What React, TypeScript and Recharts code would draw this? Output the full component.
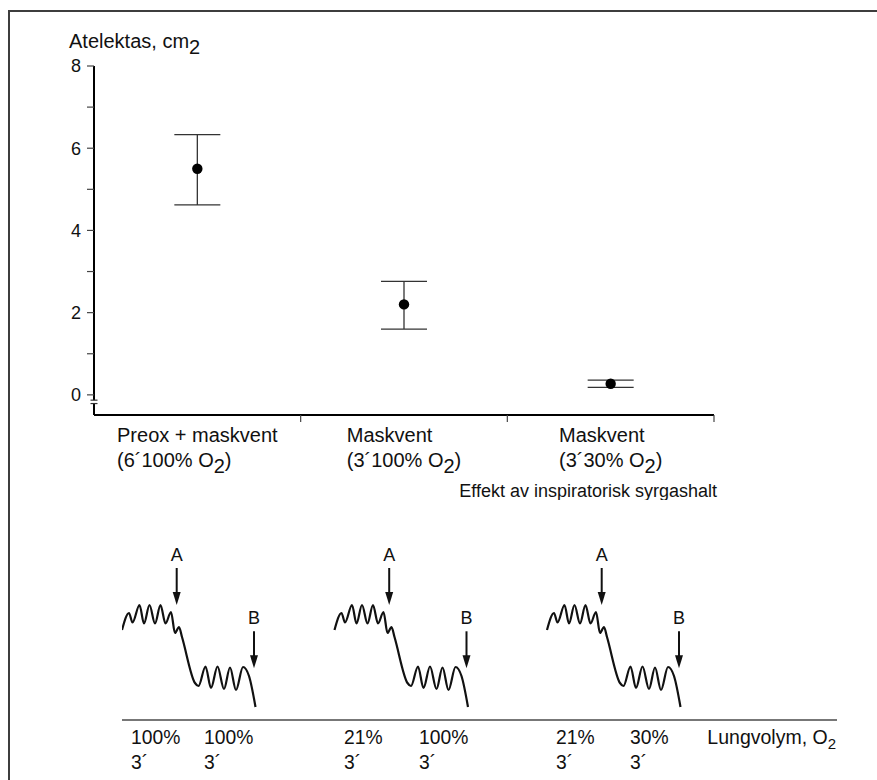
import React from 'react';
import { ComposedChart, Scatter, ErrorBar, XAxis, YAxis, Line, Label } from 'recharts';

const FONT = '"Liberation Sans", Arial, Helvetica, sans-serif';
const INK = '#111';

// ---- Top panel data ----
const categoryNames = ['Preox + maskvent', 'Maskvent', 'Maskvent'];
const categoryDoses = ['6´100%', '3´100%', '3´30%'];
const atelectasisMean = [5.5, 2.2, 0.27];
const atelectasisLow = [4.62, 1.6, 0.18];
const atelectasisHigh = [6.33, 2.76, 0.36];
const yTicks = [0, 1, 2, 3, 4, 5, 6, 7, 8];
const yBreak = -0.17;
const xCategoryTicks = [0.5, 1, 1.5, 2, 2.5, 3];

// ---- Bottom panel data (lung volume traces) ----
const traceT = [0, 1.4, 2.1, 3.5, 4.4, 5.5, 6.6, 7.7, 8.7, 9.8, 10.6, 11.4, 12.0, 14.6, 15.3, 16.7, 17.8, 19.1, 20.4, 21.6, 22.8, 24.2, 25.4, 26.7];
const traceV = [18.0, 21.4, 19.5, 23.0, 19.3, 23.0, 19.3, 23.0, 19.3, 21.6, 17.4, 18.6, 16.6, 7.4, 6.8, 10.7, 6.4, 10.7, 6.2, 10.5, 6.0, 10.6, 8.8, 2.6];
const panelOffsets = [0, 42.5, 85];
const arrowT = [10.94, 26.4];
const arrowV = [23, 10.34];
const arrowLabels = ['A', 'B'];
const o2Ticks = [1.8, 16.4, 44.4, 59.4, 86.8, 101.6];
const o2Levels = ['100%', '100%', '21%', '100%', '21%', '30%'];
const o2Durations = ['3´', '3´', '3´', '3´', '3´', '3´'];

const topData = atelectasisMean.map((m, i) => ({
  x: i + 0.5,
  y: m,
  err: [m - atelectasisLow[i], atelectasisHigh[i] - m],
}));

const panelData = panelOffsets.map((off) => traceT.map((t, i) => ({ t: t + off, v: traceV[i] })));
const arrowData = panelOffsets.flatMap((off) =>
  arrowT.map((t, i) => ({ t: t + off, v: arrowV[i], label: arrowLabels[i] }))
);

let measureCtx: CanvasRenderingContext2D | null = null;
function textWidth(s: string, font: string): number {
  if (!measureCtx) measureCtx = document.createElement('canvas').getContext('2d');
  if (!measureCtx) return s.length * 10;
  measureCtx.font = font;
  return measureCtx.measureText(s).width;
}

const CAT_FS = 20;

const CategoryTick = (props: any) => {
  const { x, y, payload } = props;
  const v = payload.value;
  const axisY = y - 6;
  if (Math.abs(v - Math.round(v)) < 1e-6) {
    return <line x1={x} x2={x} y1={axisY} y2={axisY + 7} stroke="#444" strokeWidth={1.2} />;
  }
  const i = Math.floor(v);
  const l1 = categoryNames[i];
  const l2 = `(${categoryDoses[i]} O2)`;
  const f = `${CAT_FS}px "Liberation Sans"`;
  const w = Math.max(textWidth(l1, f), textWidth(l2, f));
  const sx = x - w / 2;
  return (
    <g fontFamily={FONT} fontSize={CAT_FS} fill={INK}>
      <text x={sx} y={y + 21}>{l1}</text>
      <text x={sx} y={y + 46}>
        <tspan>{`(${categoryDoses[i]} O`}</tspan>
        <tspan dy={6}>2</tspan>
        <tspan dy={-6}>)</tspan>
      </text>
    </g>
  );
};

const YTick = (props: any) => {
  const { x, y, payload } = props;
  const axisX = x + 13;
  const v = payload.value;
  if (v === yBreak) {
    return (
      <g>
        <rect x={axisX - 2.5} y={y - 1.7} width={5} height={3.4} fill="#fff" />
        <line x1={axisX - 3.5} x2={axisX + 3.5} y1={y - 1.7} y2={y - 1.7} stroke="#333" strokeWidth={1.2} />
        <line x1={axisX - 3.5} x2={axisX + 3.5} y1={y + 1.7} y2={y + 1.7} stroke="#333" strokeWidth={1.2} />
      </g>
    );
  }
  return (
    <g>
      <line x1={axisX - 7} x2={axisX} y1={y} y2={y} stroke="#444" strokeWidth={1.2} />
      {v % 2 === 0 && (
        <text x={x} y={y} dy="0.35em" textAnchor="end" fontFamily={FONT} fontSize={18} fill={INK}>
          {v}
        </text>
      )}
    </g>
  );
};

const YTitle = (props: any) => {
  const vb = props.viewBox || { x: 0, y: 66, width: 94, height: 349 };
  return (
    <text x={vb.x + vb.width - 25} y={vb.y - 18} fontFamily={FONT} fontSize={20} fill={INK}>
      <tspan>Atelektas, cm</tspan>
      <tspan dy={6}>2</tspan>
    </text>
  );
};

const XTitle = (props: any) => {
  const vb = props.viewBox || { x: 94, y: 415, width: 620, height: 85 };
  return (
    <text x={vb.x + vb.width + 3} y={vb.y + 82} textAnchor="end" fontFamily={FONT} fontSize={18} fill={INK}>
      Effekt av inspiratorisk syrgashalt
    </text>
  );
};

const MeanDot = (props: any) => {
  const { cx, cy } = props;
  if (cx == null || cy == null) return null;
  return <circle cx={cx} cy={cy} r={5.2} fill="#000" />;
};

const O2Tick = (props: any) => {
  const { x, y, index } = props;
  return (
    <g fontFamily={FONT} fontSize={19.3} fill={INK}>
      <text x={x} y={y + 23.5}>{o2Levels[index]}</text>
      <text x={x} y={y + 49}>{o2Durations[index]}</text>
    </g>
  );
};

const LungLabel = (props: any) => {
  const vb = props.viewBox || { x: 122, y: 720, width: 715, height: 60 };
  return (
    <text x={vb.x + vb.width - 1} y={vb.y + 23.5} textAnchor="end" fontFamily={FONT} fontSize={19.5} fill={INK}>
      <tspan>Lungvolym, O</tspan>
      <tspan dy={5} fontSize={15}>2</tspan>
    </text>
  );
};

const ArrowShape = (props: any) => {
  const { cx, cy, payload } = props;
  if (cx == null || cy == null) return null;
  return (
    <g>
      <line x1={cx} x2={cx} y1={cy - 37} y2={cy - 10} stroke={INK} strokeWidth={2} />
      <path d={`M${cx - 4},${cy - 13} L${cx + 4},${cy - 13} L${cx},${cy} Z`} fill={INK} />
      <text x={cx} y={cy - 44} textAnchor="middle" fontFamily={FONT} fontSize={18} fill={INK}>
        {payload && payload.label}
      </text>
    </g>
  );
};

export default function App() {
  return (
    <div style={{ position: 'relative', width: 877, height: 780, overflow: 'hidden', background: '#fff' }}>
      <style>{'body{margin:0}'}</style>
      <div
        style={{
          position: 'absolute',
          left: 8,
          top: 10,
          width: 869,
          height: 770,
          borderTop: '2px solid #3d3d3d',
          borderLeft: '2px solid #3d3d3d',
          boxSizing: 'border-box',
        }}
      />
      <div style={{ position: 'absolute', left: 0, top: 0 }}>
        <ComposedChart width={877} height={500} margin={{ top: 66, right: 163, bottom: 0, left: 0 }}>
          <XAxis
            type="number"
            dataKey="x"
            domain={[0, 3]}
            ticks={xCategoryTicks}
            interval={0}
            tickLine={false}
            tickSize={6}
            tickMargin={0}
            axisLine={{ stroke: '#000', strokeWidth: 2 }}
            height={85}
            tick={(p: any) => <CategoryTick {...p} />}
          >
            <Label content={XTitle} />
          </XAxis>
          <YAxis
            type="number"
            domain={[-0.49, 8]}
            ticks={[yBreak, ...yTicks]}
            interval={0}
            tickLine={false}
            tickSize={7}
            tickMargin={6}
            axisLine={{ stroke: '#000', strokeWidth: 2 }}
            width={94}
            allowDataOverflow
            tick={(p: any) => <YTick {...p} />}
          >
            <Label content={YTitle} />
          </YAxis>
          <Scatter data={topData} dataKey="y" isAnimationActive={false} shape={MeanDot}>
            <ErrorBar dataKey="err" direction="y" width={23} stroke="#333" strokeWidth={1.3} />
          </Scatter>
        </ComposedChart>
      </div>
      <div style={{ position: 'absolute', left: 0, top: 500 }}>
        <ComposedChart width={877} height={280} margin={{ top: 20, right: 40, bottom: 0, left: 122 }}>
          <XAxis
            type="number"
            dataKey="t"
            domain={[0, 143]}
            ticks={o2Ticks}
            interval={0}
            tickLine={false}
            tickSize={0}
            tickMargin={0}
            axisLine={{ stroke: '#4a4a4a', strokeWidth: 1.5 }}
            height={60}
            allowDataOverflow
            tick={(p: any) => <O2Tick {...p} />}
          >
            <Label content={LungLabel} />
          </XAxis>
          <YAxis type="number" domain={[0, 40]} hide width={0} allowDataOverflow />
          {panelData.map((d, k) => (
            <Line
              key={`trace-${k}`}
              data={d}
              dataKey="v"
              type="monotone"
              stroke={INK}
              strokeWidth={2.2}
              dot={false}
              activeDot={false}
              isAnimationActive={false}
            />
          ))}
          <Scatter data={arrowData} dataKey="v" shape={ArrowShape} isAnimationActive={false} />
        </ComposedChart>
      </div>
    </div>
  );
}
